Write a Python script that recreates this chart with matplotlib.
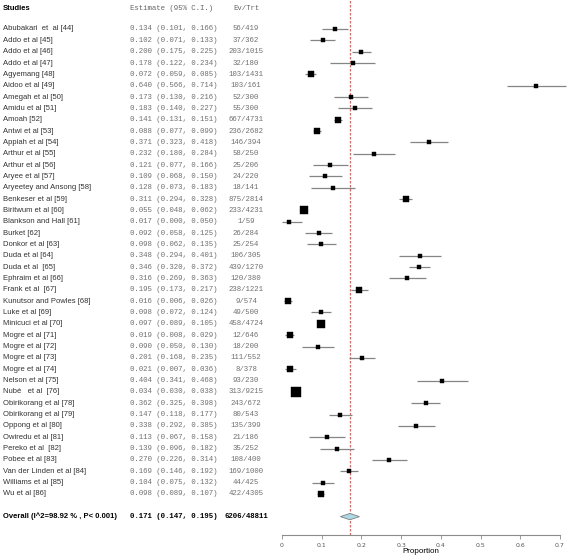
import numpy as np
import matplotlib
matplotlib.use("Agg")
from matplotlib import pyplot as plt
from matplotlib import transforms
from matplotlib.patches import Polygon

# forest plot: prevalence per study, random effects pooled estimate

studies = ["Abubakari  et  al [44]", "Addo et al [45]", "Addo et al [46]", "Addo et al [47]",
           "Agyemang [48]", "Aidoo et al [49]", "Amegah et al [50]", "Amidu et al [51]",
           "Amoah [52]", "Antwi et al [53]", "Appiah et al [54]", "Arthur et al [55]",
           "Arthur et al [56]", "Aryee et al [57]", "Aryeetey and Ansong [58]", "Benkeser et al [59]",
           "Biritwum et al [60]", "Blankson and Hall [61]", "Burket [62]", "Donkor et al [63]",
           "Duda et al [64]", "Duda et al  [65]", "Ephraim et al [66]", "Frank et al  [67]",
           "Kunutsor and Powles [68]", "Luke et al [69]", "Minicuci et al [70]", "Mogre et al [71]",
           "Mogre et al [72]", "Mogre et al [73]", "Mogre et al [74]", "Nelson et al [75]",
           "Nubé   et al  [76]", "Obirikorang et al [78]", "Obirikorang et al [79]", "Oppong et al [80]",
           "Owiredu et al [81]", "Pereko et al  [82]", "Pobee et al [83]", "Van der Linden et al [84]",
           "Williams et al [85]", "Wu et al [86]"]

est = [0.134, 0.102, 0.200, 0.178, 0.072, 0.640, 0.173, 0.183, 0.141, 0.088,
       0.371, 0.232, 0.121, 0.109, 0.128, 0.311, 0.055, 0.017, 0.092, 0.098,
       0.348, 0.346, 0.316, 0.195, 0.016, 0.098, 0.097, 0.019, 0.090, 0.201,
       0.021, 0.404, 0.034, 0.362, 0.147, 0.338, 0.113, 0.139, 0.270, 0.169,
       0.104, 0.098]
lo = [0.101, 0.071, 0.175, 0.122, 0.059, 0.566, 0.130, 0.140, 0.131, 0.077,
      0.323, 0.180, 0.077, 0.068, 0.073, 0.294, 0.048, 0.000, 0.058, 0.062,
      0.294, 0.320, 0.269, 0.173, 0.006, 0.072, 0.089, 0.008, 0.050, 0.168,
      0.007, 0.341, 0.030, 0.325, 0.118, 0.292, 0.067, 0.096, 0.226, 0.146,
      0.075, 0.089]
hi = [0.166, 0.133, 0.225, 0.234, 0.085, 0.714, 0.216, 0.227, 0.151, 0.099,
      0.418, 0.284, 0.166, 0.150, 0.183, 0.328, 0.062, 0.050, 0.125, 0.135,
      0.401, 0.372, 0.363, 0.217, 0.026, 0.124, 0.105, 0.029, 0.130, 0.235,
      0.036, 0.468, 0.038, 0.398, 0.177, 0.385, 0.158, 0.182, 0.314, 0.192,
      0.132, 0.107]
ev_trt = ["56/419", "37/362", "203/1015", "32/180", "103/1431", "103/161", "52/300", "55/300",
          "667/4731", "236/2682", "146/394", "58/250", "25/206", "24/220", "18/141", "875/2814",
          "233/4231", "1/59", "26/284", "25/254", "106/305", "439/1270", "120/380", "238/1221",
          "9/574", "49/500", "458/4724", "12/646", "18/200", "111/552", "8/378", "93/230",
          "313/9215", "243/672", "80/543", "135/399", "21/186", "35/252", "108/400", "169/1000",
          "44/425", "422/4305"]

overall_label = "Overall (I^2=98.92 % , P< 0.001)"
overall = (0.171, 0.147, 0.195)
overall_evtrt = "6206/48811"

W, H = 567, 558
fig = plt.figure(figsize=(W / 100, H / 100), dpi=100)

row_px = 11.34
first_px = 29.0
axis_px = 535.0
y_top = 1 - first_px / row_px
y_bot = 1 + (axis_px - first_px) / row_px

ax = fig.add_axes([282 / W, 1 - axis_px / H, (560 - 282) / W, axis_px / H])
ax.set_xlim(0, 0.7)
ax.set_ylim(y_bot, y_top)

rows = np.arange(1, len(studies) + 1)
width = np.array(hi) - np.array(lo)
# box size grows with precision of the estimate
box_px = 3.2 * (0.148 / width) ** 0.37

for r, e, l, h, b in zip(rows, est, lo, hi, box_px):
    ax.plot([l, h], [r, r], color="#858585", lw=0.9, clip_on=False, zorder=2,
            solid_capstyle="butt")
    ax.plot([e], [r], marker="s", ms=b * 72 / 100, color="black", mec="black",
            mew=0.3, clip_on=False, zorder=3)

ov_row = len(studies) + 2
ax.axvline(overall[0], color="#ff5a5a", lw=0.9, ls=(0, (2, 1.2)), zorder=1)
dh = 0.28
ax.add_patch(Polygon([[overall[1], ov_row], [overall[0], ov_row - dh],
                      [overall[2], ov_row], [overall[0], ov_row + dh]],
                     closed=True, facecolor="#add8e6", edgecolor="#7f7f7f", lw=0.6,
                     zorder=4, clip_on=False))

for s in ["left", "top", "right"]:
    ax.spines[s].set_visible(False)
ax.spines["bottom"].set_color("#8c8c8c")
ax.spines["bottom"].set_linewidth(0.8)
ax.set_yticks([])
ax.set_xticks(np.arange(0, 0.71, 0.1))
ax.set_xticklabels(["0", "0.1", "0.2", "0.3", "0.4", "0.5", "0.6", "0.7"])
ax.tick_params(axis="x", length=3, width=0.6, color="#8c8c8c", labelsize=4.5,
               labelcolor="#555555", pad=2.5)
ax.set_xlabel("Proportion", fontsize=5.8, family="Liberation Sans", labelpad=0.5)
ax.patch.set_alpha(0)

# text columns
tr = transforms.blended_transform_factory(fig.transFigure, ax.transData)
sans = "Liberation Sans"
mono = "Liberation Mono"
x_name, x_est, x_ev = 3 / W, 130 / W, 246 / W
fs = 5.5
fm = 5.3

hdr_row = 1 - (first_px - 8) / row_px
fig.text(x_name, hdr_row, "Studies", transform=tr, fontsize=fs, family=sans,
         weight="bold", va="center")
fig.text(x_est, hdr_row, "Estimate (95% C.I.)", transform=tr, fontsize=fm, family=mono,
         color="#666666", va="center")
fig.text(x_ev, hdr_row, "Ev/Trt", transform=tr, fontsize=fm, family=mono,
         color="#666666", va="center", ha="center")

for r, name, e, l, h, et in zip(rows, studies, est, lo, hi, ev_trt):
    fig.text(x_name, r, name, transform=tr, fontsize=fs, family=sans, color="#333333",
             va="center")
    fig.text(x_est, r, f"{e:.3f} ({l:.3f}, {h:.3f})", transform=tr, fontsize=fm,
             family=mono, color="#707070", va="center")
    fig.text(x_ev, r, et, transform=tr, fontsize=fm, family=mono, color="#707070",
             va="center", ha="center")

fig.text(x_name, ov_row, overall_label, transform=tr, fontsize=fs, family=sans,
         weight="bold", va="center")
fig.text(x_est, ov_row, f"{overall[0]:.3f} ({overall[1]:.3f}, {overall[2]:.3f})",
         transform=tr, fontsize=fm, family=mono, weight="bold", va="center")
fig.text(x_ev, ov_row, overall_evtrt, transform=tr, fontsize=fm, family=mono,
         weight="bold", va="center", ha="center")

fig.savefig("out.png", dpi=100, facecolor="white")
